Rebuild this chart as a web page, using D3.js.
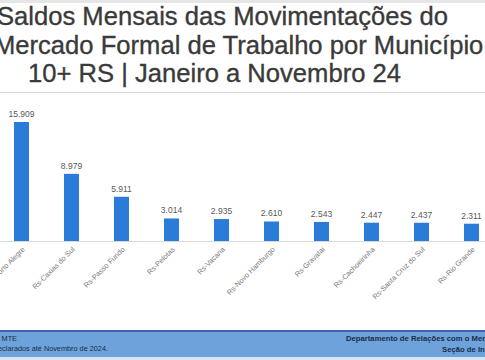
<!DOCTYPE html>
<html lang="pt">
<head>
    <meta charset="utf-8" />
    <title>Saldos por Município</title>
    <script src="https://d3js.org/d3.v7.min.js"></script>
    <style>
        body { margin: 0; background: #fff; }
        svg { display: block; font-family: "Liberation Sans", Arial, sans-serif; }
    </style>
</head>
<body>
    <div id="chart"></div>

    <script>
        // data
        const municipios = ["Rs-Porto Alegre", "Rs-Caxias do Sul", "Rs-Passo Fundo", "Rs-Pelotas", "Rs-Vacaria",
            "Rs-Novo Hamburgo", "Rs-Gravatai", "Rs-Cachoeirinha", "Rs-Santa Cruz do Sul", "Rs-Rio Grande"];
        const saldos = [15909, 8979, 5911, 3014, 2935, 2610, 2543, 2447, 2437, 2311];
        const titleLines = ["Saldos Mensais das Movimentações do",
            "Mercado Formal de Trabalho por Município",
            "10+ RS | Janeiro a Novembro 24"];
        const fonteLines = ["Fonte: Novo CAGED - MTE", "* Dados declarados até Novembro de 2024."];
        const deptLines = ["Departamento de Relações com o Mercado de Trabalho", "Seção de Informações"];

        const W = 485, H = 360;
        const baseY = 241;

        const svg = d3.select("#chart").append("svg")
            .attr("width", W)
            .attr("height", H);

        // top strip
        svg.append("rect").attr("x", 0).attr("y", 0).attr("width", W).attr("height", 3).attr("fill", "#e6e6e6");

        // title
        const titleX = [-3, -6, 28];
        svg.append("g").selectAll("text")
            .data(titleLines)
            .enter().append("text")
                .attr("x", (d, i) => titleX[i])
                .attr("y", (d, i) => 25 + i * 28.5)
                .attr("font-size", 25.6)
                .attr("fill", "#3a3a3a")
                .attr("stroke", "#3a3a3a")
                .attr("stroke-width", 0.35)
                .text(d => d);

        svg.append("line")
            .attr("x1", 0).attr("x2", W)
            .attr("y1", 92.5).attr("y2", 92.5)
            .attr("stroke", "#d9d9d9");

        // scales
        const x = d3.scaleBand()
            .domain(municipios)
            .range([-3.5, 496.5])
            .paddingInner(0.7)
            .paddingOuter(0.35);

        const y = d3.scaleLinear()
            .domain([0, 15909])
            .range([baseY, 122]);

        // baseline
        svg.append("line")
            .attr("x1", 0).attr("x2", W)
            .attr("y1", baseY + 0.5).attr("y2", baseY + 0.5)
            .attr("stroke", "#d9d9d9");

        // bars
        svg.append("g").selectAll("rect")
            .data(saldos)
            .enter().append("rect")
                .attr("x", (d, i) => x(municipios[i]))
                .attr("y", d => y(d))
                .attr("width", x.bandwidth())
                .attr("height", d => baseY - y(d))
                .attr("fill", "#2b7cd8");

        // value labels
        const fmt = d3.formatLocale({ decimal: ",", thousands: ".", grouping: [3], currency: ["R$", ""] }).format(",");
        svg.append("g").selectAll("text")
            .data(saldos)
            .enter().append("text")
                .attr("x", (d, i) => x(municipios[i]) + x.bandwidth() / 2)
                .attr("y", d => y(d) - 5)
                .attr("text-anchor", "middle")
                .attr("font-size", 8.5)
                .attr("fill", "#595959")
                .text(d => fmt(d));

        // x labels (rotated)
        svg.append("g").selectAll("text")
            .data(municipios)
            .enter().append("text")
                .attr("transform", d => "translate(" + (x(d) + x.bandwidth() / 2 + 2) + "," + (baseY + 7) + ") rotate(-45)")
                .attr("text-anchor", "end")
                .attr("dy", "0.35em")
                .attr("font-size", 7.3)
                .attr("fill", "#7a7a7a")
                .text(d => d);

        // footer
        svg.append("rect").attr("x", 0).attr("y", 330).attr("width", W).attr("height", 2).attr("fill", "#3f62a8");
        svg.append("rect").attr("x", 0).attr("y", 332).attr("width", W).attr("height", 25).attr("fill", "#6da3da");
        svg.append("rect").attr("x", 0).attr("y", 357).attr("width", W).attr("height", 3).attr("fill", "#dbe6f2");

        const fonteEnd = [17, 108];
        svg.append("g").selectAll("text")
            .data(fonteLines)
            .enter().append("text")
                .attr("x", (d, i) => fonteEnd[i])
                .attr("y", (d, i) => 341 + i * 10)
                .attr("text-anchor", "end")
                .attr("font-size", 7.3)
                .attr("fill", "#1c2b48")
                .text(d => d);

        const deptX = [346, 442];
        svg.append("g").selectAll("text")
            .data(deptLines)
            .enter().append("text")
                .attr("x", (d, i) => deptX[i])
                .attr("y", (d, i) => 341 + i * 11)
                .attr("font-size", 7.7)
                .attr("font-weight", "bold")
                .attr("fill", "#1c2b48")
                .text(d => d);
    </script>
</body>
</html>
